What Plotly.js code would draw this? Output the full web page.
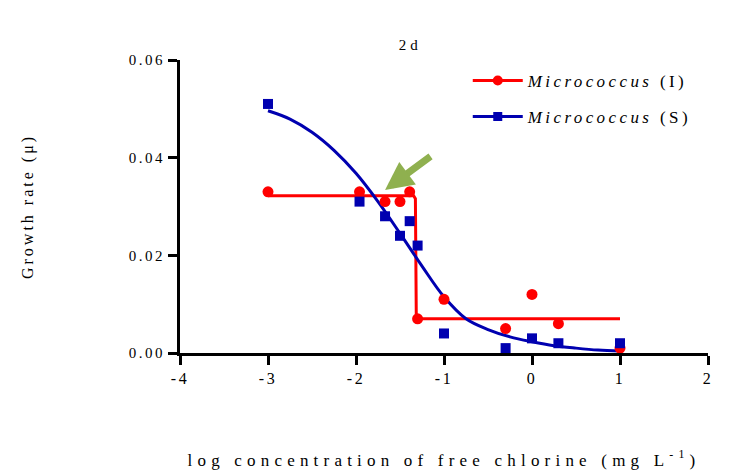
<!DOCTYPE html>
<html>
<head>
<meta charset="utf-8">
<script src="https://cdn.plot.ly/plotly-3.0.1.min.js"></script>
<style>
  html, body { margin: 0; padding: 0; background: #fff; }
  #chart { width: 738px; height: 476px; }
  .xtitle { letter-spacing: 5.2px; }
  .ytitle { letter-spacing: 3px; }
  .legendtext { letter-spacing: 3.4px; }
  .xtick text, .ytick text { letter-spacing: 2.5px; }
  .gtitle { letter-spacing: 4px; }
</style>
</head>
<body>
<div id="chart"></div>
<script>
// Observed data: Micrococcus (I)
const xI = [-3, -1.96, -1.67, -1.5, -1.39, -1.3, -1.0, -0.3, 0, 0.3, 1];
const yI = [0.033, 0.033, 0.031, 0.031, 0.033, 0.007, 0.011, 0.005, 0.012, 0.006, 0.001];
// Observed data: Micrococcus (S)
const xS = [-3, -1.96, -1.67, -1.5, -1.39, -1.3, -1.0, -0.3, 0, 0.3, 1];
const yS = [0.051, 0.031, 0.028, 0.024, 0.027, 0.022, 0.004, 0.001, 0.003, 0.002, 0.002];
// Fitted curves
const fitIx = [-3, -1.345, -1.325, -1.315, -1.3, 1];
const fitIy = [0.0322, 0.0322, 0.0316, 0.0075, 0.007, 0.007];
const fitSx = [-3, -2.75, -2.5, -2.25, -2, -1.75, -1.5, -1.25, -1, -0.75, -0.5, -0.25, 0, 0.25, 0.5, 0.75, 1];
const fitSy = [0.0496, 0.0479, 0.0452, 0.0415, 0.0368, 0.031, 0.0245, 0.0178, 0.0115, 0.007, 0.0048, 0.0033, 0.0023, 0.0015, 0.001, 0.0006, 0.0004];
// Axis ticks
const xTicks = [-4, -3, -2, -1, 0, 1, 2];
const yTicks = [0, 0.02, 0.04, 0.06];
const yTickText = ['0.00', '0.02', '0.04', '0.06'];
const nameI = '<i>Micrococcus</i> (I)';
const nameS = '<i>Micrococcus</i> (S)';

const red = '#ff0000';
const blue = '#0000b0';

const traces = [
  { x: fitIx, y: fitIy, mode: 'lines', line: { color: red, width: 3 }, showlegend: false, hoverinfo: 'skip' },
  { x: fitSx, y: fitSy, mode: 'lines', line: { color: blue, width: 3, shape: 'spline', smoothing: 1 }, showlegend: false, hoverinfo: 'skip' },
  { x: xI, y: yI, mode: 'markers', marker: { color: red, size: 11, symbol: 'circle' }, showlegend: false },
  { x: xS, y: yS, mode: 'markers', marker: { color: blue, size: 10, symbol: 'square' }, showlegend: false },
  { x: [null], y: [null], name: nameI, legendgroup: 'I', mode: 'lines+markers', line: { color: red, width: 3 }, marker: { color: red, size: 10, symbol: 'circle' } },
  { x: [null], y: [null], name: nameS, legendgroup: 'S', mode: 'lines+markers', line: { color: blue, width: 3 }, marker: { color: blue, size: 9, symbol: 'square' } }
];

const fam = '"Liberation Serif", serif';

const layout = {
  width: 738, height: 476,
  margin: { l: 180, r: 30, t: 60, b: 123 },
  paper_bgcolor: '#fff', plot_bgcolor: '#fff',
  font: { family: fam, color: '#000', size: 15 },
  title: { text: '2d', font: { family: fam, color: '#000', size: 15 }, x: 0.556, xref: 'container', xanchor: 'center', y: 0.905, yref: 'container', yanchor: 'middle' },
  xaxis: {
    range: [-4, 2], tickvals: xTicks, ticktext: xTicks.map(String),
    showgrid: false, zeroline: false, showline: true, linecolor: '#000', linewidth: 3,
    ticks: 'outside', ticklen: 9, tickwidth: 3, tickcolor: '#000',
    tickfont: { family: fam, color: '#000', size: 16 },
    title: { text: 'log concentration of free chlorine (mg L<sup>-1</sup>)', font: { family: fam, color: '#000', size: 17 }, standoff: 68 }
  },
  yaxis: {
    range: [0, 0.06], tickvals: yTicks, ticktext: yTickText,
    showgrid: false, zeroline: false, showline: true, linecolor: '#000', linewidth: 3,
    ticks: 'outside', ticklen: 9, tickwidth: 3, tickcolor: '#000',
    tickfont: { family: fam, color: '#000', size: 15 },
    title: { text: 'Growth rate (μ)', font: { family: fam, color: '#000', size: 16 }, standoff: 92 }
  },
  legend: {
    x: 0.545, y: 0.99, xanchor: 'left', yanchor: 'top',
    font: { family: fam, color: '#000', size: 17 }, bgcolor: 'rgba(0,0,0,0)',
    tracegroupgap: 11, itemwidth: 50
  },
  annotations: [{
    x: -1.67, y: 0.0334, ax: -1.136, ay: 0.0405, axref: 'x', ayref: 'y', xref: 'x', yref: 'y',
    text: '', showarrow: true, arrowhead: 2, arrowsize: 0.8, arrowwidth: 7, arrowcolor: '#8fb04f'
  }]
};

Plotly.newPlot('chart', traces, layout, { displayModeBar: false, staticPlot: true });
</script>
</body>
</html>
